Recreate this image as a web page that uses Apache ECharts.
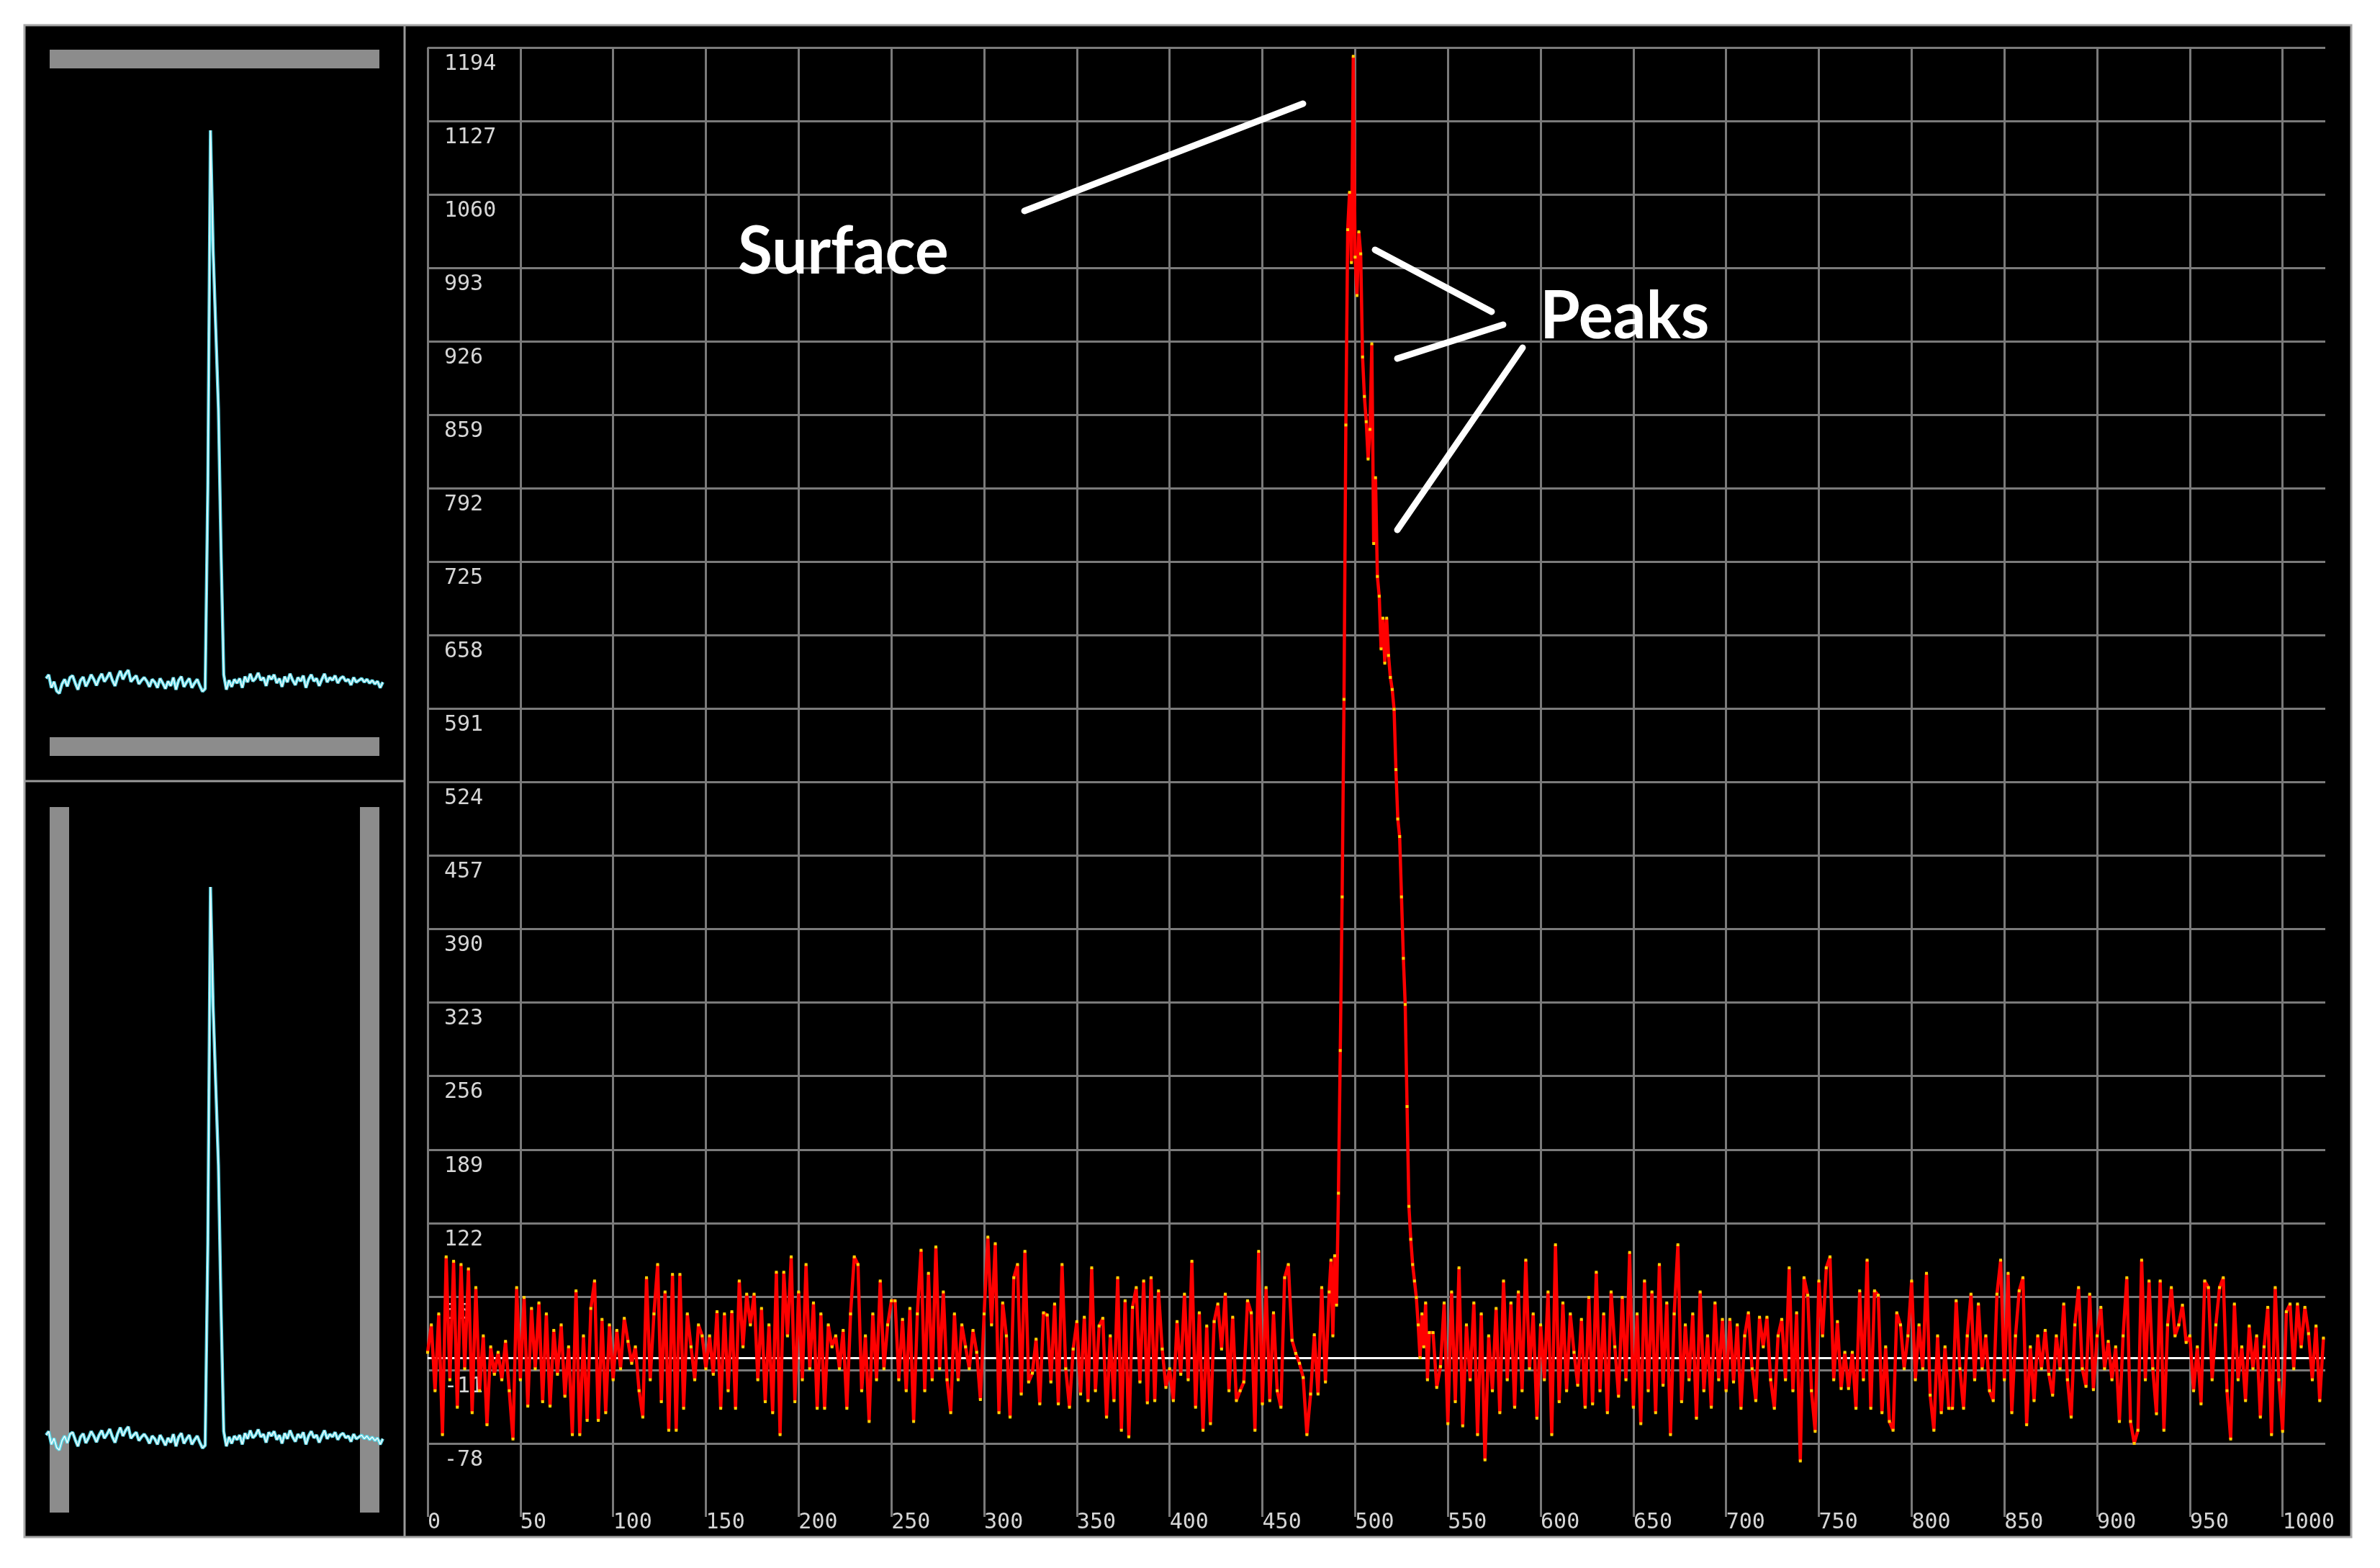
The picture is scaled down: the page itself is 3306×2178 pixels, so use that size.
<!DOCTYPE html>
<html>
<head>
<meta charset="utf-8">
<title>Echo trace</title>
<script src="https://cdn.jsdelivr.net/npm/echarts@6/dist/echarts.min.js"></script>
<style>
  html, body { margin: 0; padding: 0; background: #ffffff; }
  #main { width: 3306px; height: 2178px; }
</style>
</head>
<body>
<div id="main"></div>
<script>
// tick labels of the big plot, bottom to top (one per grid line)
var yTickLabels = [-78, -11, 55, 122, 189, 256, 323, 390, 457, 524, 591, 658, 725, 792, 859, 926, 993, 1060, 1127, 1194];
var yTickStep = 66.947;
var xMax = 1023;

// received signal, every 2nd sample before the echo (x = 0 .. 484)
var traceLeft = [
  5, 30, -30, 40, -70, 92, -20, 88, -45, 85,
  -10, 81, -50, 64, -30, 20, -61, 10, -15, 5,
  -20, 15, -30, -74, 64, -20, 55, -44, 45, -10,
  50, -40, 40, -44, 25, -15, 30, -35, 10, -70,
  61, -70, 20, -57, 45, 70, -57, 35, -50, 30,
  -20, 25, -10, 36, 15, -5, 10, -30, -54, 73,
  -20, 40, 85, -40, 60, -66, 76, -66, 76, -46,
  40, 10, -20, 30, 20, -10, 20, -15, 42, -46,
  40, -30, 42, -46, 70, 10, 58, 30, 58, -20,
  45, -40, 30, -50, 78, -70, 78, 20, 92, -40,
  60, -20, 85, -10, 50, -46, 40, -46, 30, 10,
  20, -10, 25, -46, 40, 92, 85, -30, 20, -58,
  40, -20, 70, -10, 30, 52, 52, -20, 35, -30,
  45, -58, 40, 98, -30, 77, -20, 101, -10, 60,
  -20, -50, 40, -20, 30, 10, -10, 25, 5, -38,
  40, 110, 30, 104, -50, 50, 20, -54, 73, 85,
  -33, 97, -22, -14, 17, -42, 41, 39, -22, 49,
  -42, 85, -10, -45, 8, 33, -33, 37, -39, 82,
  -30, 29, 36, -54, 20, -39, 73, -66, 52, -72,
  46, 64, -22, 70, -41, 73, -39, 61, 8, -27,
  -10, -39, 33, -15, 58, -20, 88, -45, 41, -66,
  29, -60, 33, 49, 8, 58, -30, 37, -39, -30,
  -22, 52, 41, -66, 97, -42, 64, -39, 41, -30,
  -45, 73, 85, 16, 4, -5, -18, -70, -33, 21,
  -33, 64, -22
];

// the echo itself, every sample (x = 486 .. 540)
var pulse = [
  60, 89, 20, 93, 48, 150, 280, 420, 600, 850,
  1028, 1062, 998, 1186, 1003, 968, 1026, 1006, 912, 876,
  853, 819, 846, 924, 742, 802, 712, 694, 646, 674,
  633, 674, 640, 620, 609, 591, 536, 491, 475, 420,
  364, 322, 229, 138, 108, 85, 70, 55, 30, 0,
  40, 10, 50, -20, 23
];

// every 2nd sample after the echo (x = 542 .. 1022)
var traceRight = [
  23, -27, -8, 50, -60, 60, -40, 82, -62, 30,
  -20, 50, -70, 40, -93, 20, -30, 45, -50, 70,
  -20, 50, -45, 60, -30, 89, -10, 40, -55, 30,
  -20, 60, -70, 103, -40, 50, -30, 40, 5, -25,
  35, -45, 55, -42, 78, -30, 40, -50, 60, 10,
  -35, 55, -20, 96, -45, 40, -60, 70, -30, 60,
  -50, 85, -25, 50, -70, 40, 103, -40, 30, -20,
  40, -55, 60, -30, 20, -45, 50, -20, 35, -30,
  35, -22, 30, -46, 20, 41, -10, -39, 37, 10,
  37, -20, -46, 20, 35, -20, 82, -30, 41, -94,
  73, 57, -30, -67, 70, 20, 82, 92, -20, 33,
  -28, 5, -28, 5, -46, 61, -20, 89, -46, 61,
  57, -50, 10, -58, -66, 41, 30, -10, 20, 70,
  -20, 30, -10, 77, -34, -66, 20, -50, 10, -46,
  -46, 52, -10, -46, 20, 58, -20, 49, -10, 20,
  -30, -39, 58, 89, -20, 77, -50, 20, 61, 73,
  -61, 10, -39, 20, -10, 25, -15, -34, 20, -10,
  49, -20, -54, 30, 64, -10, -26, 58, -29, 20,
  46, -10, 15, -20, 10, -58, 20, 73, -58, -78,
  -66, 89, -20, 70, -10, -51, 70, -66, 30, 64,
  20, 30, 48, 14, 20, -30, 10, -42, 70, 64,
  -20, 30, 64, 73, -30, -74, 49, -20, 10, -39,
  29, -10, 20, -54, 10, 46, -70, 64, -20, -67,
  42, 49, -10, 49, 10, 46, 22, -20, 29, -39,
  18
];

// averaged trace in the two small panels, every 8th sample (x = 0 .. 1016)
var miniTrace = [
  12, 20, -8, 5, -15, -20, 0, 10, -5, 14,
  18, 2, -12, 8, 15, -5, 6, 20, 10, -3,
  12, 22, 5, 14, 25, 8, -4, 15, 28, 10,
  22, 30, 5, 12, 18, 0, 8, 14, 6, -6,
  10, 4, -8, 12, 2, -10, 6, -4, 14, -12,
  8, 16, -6, 4, 12, -8, 2, 10, -4, -16,
  -10, 420, 1186, 930, 760, 590, 280, 20, -12, 8,
  -6, 10, 2, 12, -8, 16, 4, 22, 6, 12,
  24, 8, 14, -4, 18, 10, 20, 2, 12, -6,
  16, 4, 22, 8, -2, 14, 6, 18, -8, 10,
  20, 6, 12, -4, 10, 22, 4, 14, 8, 18,
  2, 12, 16, 6, 10, -2, 14, 4, 8, 12,
  4, 10, 2, 8, 0, 6, -8, 4
];

var signal = [];
traceLeft.forEach(function (v, i) { signal.push([i * 2, v]); });
pulse.forEach(function (v, i) { signal.push([486 + i, v]); });
traceRight.forEach(function (v, i) { signal.push([542 + i * 2, v]); });
var mini = miniTrace.map(function (v, i) { return [i * 8, v]; });

var gridColor = '#7a7a7a';
var labelColor = '#d6d6d6';
var mono = 'DejaVu Sans Mono';

function miniSeries(idx) {
  return [
    {
      type: 'line', xAxisIndex: idx, yAxisIndex: idx + 1, data: mini,
      symbol: 'none', lineStyle: { color: '#55d4e4', width: 4.5 }, z: 3
    },
    {
      type: 'line', xAxisIndex: idx, yAxisIndex: idx + 1, data: mini,
      symbol: 'none', lineStyle: { color: '#ffffff', width: 1.6, opacity: 0.9 }, z: 4
    }
  ];
}

var chart = echarts.init(document.getElementById('main'));
var option = {
  animation: false,
  backgroundColor: '#ffffff',
  grid: [
    { left: 594, top: 66, width: 2636, height: 2041, outerBoundsMode: 'none' },
    { left: 64, top: 172, width: 471, height: 843, outerBoundsMode: 'none' },
    { left: 64, top: 1223, width: 471, height: 843, outerBoundsMode: 'none' }
  ],
  xAxis: [
    {
      gridIndex: 0, type: 'value', min: 0, max: xMax, interval: 50,
      axisLine: { show: false }, axisTick: { show: false },
      splitLine: { show: true, showMaxLine: false, lineStyle: { color: gridColor, width: 3 } },
      axisLabel: {
        showMaxLabel: false, align: 'left', verticalAlign: 'top', margin: -7,
        color: labelColor, fontFamily: mono, fontSize: 30,
        formatter: function (val) { return String(val); }
      }
    },
    { gridIndex: 1, type: 'value', min: 0, max: xMax, show: false },
    { gridIndex: 2, type: 'value', min: 0, max: xMax, show: false }
  ],
  yAxis: [
    { gridIndex: 0, type: 'value', position: 'right', min: yTickLabels[0] - yTickStep, max: yTickLabels[0] + 19 * yTickStep, show: false },
    {
      gridIndex: 0, type: 'value', position: 'left', min: -1, max: 19, interval: 1,
      axisLine: { show: false }, axisTick: { show: false },
      splitLine: { show: true, showMinLine: false, lineStyle: { color: gridColor, width: 3 } },
      axisLabel: {
        inside: true, margin: 23, align: 'left', verticalAlign: 'top', padding: [8, 0, 0, 0],
        color: labelColor, fontFamily: mono, fontSize: 30,
        formatter: function (val) {
          var i = Math.round(val);
          return i >= 0 && i < yTickLabels.length ? String(yTickLabels[i]) : '';
        }
      }
    },
    { gridIndex: 1, type: 'value', min: -100, max: 1200, show: false },
    { gridIndex: 2, type: 'value', min: -100, max: 1200, show: false }
  ],
  series: [
    {
      type: 'line', xAxisIndex: 0, yAxisIndex: 0, data: signal, z: 3,
      symbol: 'rect', symbolSize: 4, itemStyle: { color: '#ffd000' },
      lineStyle: { color: '#ff0000', width: 4.5 },
      emphasis: { disabled: true },
      markLine: {
        silent: true, symbol: 'none', z: 1, label: { show: false },
        lineStyle: { color: '#ffffff', width: 3, type: 'solid' },
        data: [{ yAxis: 0 }]
      }
    }
  ].concat(miniSeries(1), miniSeries(2)),
  graphic: [
    // panels
    { type: 'rect', z: -2, shape: { x: 34, y: 35, width: 3232, height: 2100 }, style: { fill: '#000000', stroke: '#a6a6a6', lineWidth: 3 } },
    { type: 'line', z: -1, shape: { x1: 562, y1: 35, x2: 562, y2: 2135 }, style: { stroke: '#9a9a9a', lineWidth: 3 } },
    { type: 'line', z: -1, shape: { x1: 34, y1: 1085, x2: 562, y2: 1085 }, style: { stroke: '#9a9a9a', lineWidth: 3 } },
    { type: 'rect', z: -1, shape: { x: 69, y: 69, width: 458, height: 26 }, style: { fill: '#8c8c8c' } },
    { type: 'rect', z: -1, shape: { x: 69, y: 1024, width: 458, height: 26 }, style: { fill: '#8c8c8c' } },
    { type: 'rect', z: -1, shape: { x: 69, y: 1121, width: 27, height: 980 }, style: { fill: '#8c8c8c' } },
    { type: 'rect', z: -1, shape: { x: 500, y: 1121, width: 27, height: 980 }, style: { fill: '#8c8c8c' } },
    // annotations
    { type: 'line', z: 100, shape: { x1: 1423, y1: 293, x2: 1810, y2: 144 }, style: { stroke: '#ffffff', lineWidth: 9, lineCap: 'round' } },
    { type: 'line', z: 100, shape: { x1: 1910, y1: 347, x2: 2072, y2: 433 }, style: { stroke: '#ffffff', lineWidth: 9, lineCap: 'round' } },
    { type: 'line', z: 100, shape: { x1: 1941, y1: 498, x2: 2088, y2: 451 }, style: { stroke: '#ffffff', lineWidth: 9, lineCap: 'round' } },
    { type: 'line', z: 100, shape: { x1: 1941, y1: 736, x2: 2115, y2: 483 }, style: { stroke: '#ffffff', lineWidth: 9, lineCap: 'round' } },
    { type: 'text', z: 100, x: 1025, y: 304, scaleX: 0.95, style: { text: 'Surface', font: 'bold 92px Lato', fill: '#ffffff', align: 'left', verticalAlign: 'top' } },
    { type: 'text', z: 100, x: 2139, y: 394, scaleX: 0.98, style: { text: 'Peaks', font: 'bold 92px Lato', fill: '#ffffff', align: 'left', verticalAlign: 'top' } }
  ]
};
chart.setOption(option);
</script>
</body>
</html>
